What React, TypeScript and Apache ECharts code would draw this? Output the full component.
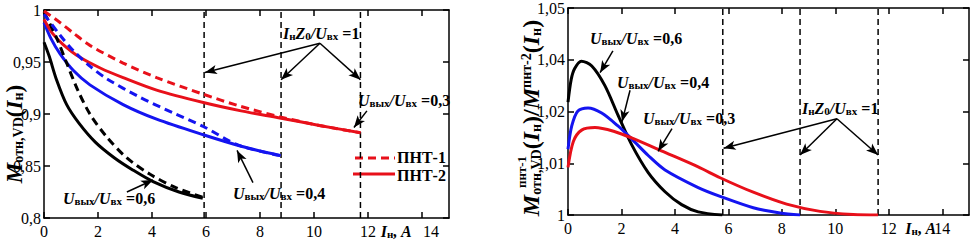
import React, { useEffect, useRef } from "react";
import * as echarts from "echarts";

// ---------- tick labels ----------
const xTickValues = [0, 2, 4, 6, 8, 10, 12, 14];
const xTickLabels = ["0", "2", "4", "6", "8", "10", "12", "14"];
const yLeftLabels = ["0,8", "0,85", "0,9", "0,95", "1"];
const yRightLabels = ["1", "1,01", "1,02", "1,04", "1,05"];

// ---------- left chart: M_отн,VD(Iн) ----------
// ПНТ-2 (solid)
const left06Pnt2: number[][] = [
  [0, 0.969], [0.2, 0.955], [0.45, 0.934], [0.84, 0.909],
  [1.3, 0.891], [1.9, 0.873], [2.6, 0.858], [3.3, 0.846], [4.04, 0.835],
  [5.0, 0.825], [5.88, 0.819],
];
const left04Pnt2: number[][] = [
  [0, 0.988], [0.25, 0.973], [0.59, 0.958], [1.08, 0.942], [1.7, 0.928],
  [2.93, 0.909], [4.17, 0.895], [5.9, 0.880], [7.3, 0.869],
  [8.76, 0.860],
];
const left03Pnt2: number[][] = [
  [0, 0.991], [0.3, 0.978], [0.7, 0.967], [1.3, 0.955], [2.1, 0.944],
  [2.93, 0.935], [4.17, 0.923], [5.9, 0.911], [7.3, 0.903], [8.78, 0.896], [10.2, 0.889],
  [11.72, 0.882],
];
// ПНТ-1 (dashed)
const left06Pnt1: number[][] = [
  [0, 0.998], [0.47, 0.973], [0.84, 0.949], [1.25, 0.923], [1.7, 0.900], [2.32, 0.878],
  [3.06, 0.858], [3.93, 0.842], [4.9, 0.829], [5.88, 0.820],
];
const left04Pnt1: number[][] = [
  [0, 0.996], [0.59, 0.976], [1.08, 0.961], [1.7, 0.946], [2.32, 0.934], [3.56, 0.916],
  [4.79, 0.901], [5.9, 0.888], [7.2, 0.870], [8.76, 0.860],
];
const left03Pnt1: number[][] = [
  [0, 0.999], [0.59, 0.988], [1.08, 0.978], [1.7, 0.966], [2.93, 0.949], [4.17, 0.935],
  [5.9, 0.919], [7.2, 0.908], [8.78, 0.897], [10.2, 0.889], [11.72, 0.882],
];
const leftLimits = [5.93, 8.78, 11.72];

// ---------- right chart: ratio ПНТ-1 / ПНТ-2 ----------
const right06: number[][] = [
  [0, 1.0218], [0.12, 1.0262], [0.25, 1.0283], [0.5, 1.0297], [0.89, 1.0288], [1.38, 1.025],
  [1.87, 1.0193], [2.38, 1.0136], [3.0, 1.0082], [3.63, 1.0045], [4.25, 1.002],
  [4.87, 1.0006], [5.77, 1.0],
];
const right04: number[][] = [
  [0, 1.0127], [0.14, 1.0172], [0.37, 1.0201], [0.75, 1.0207], [1.26, 1.0197],
  [1.87, 1.0172], [2.38, 1.0147], [3.0, 1.0115], [3.63, 1.0087], [4.87, 1.0053],
  [5.69, 1.0036], [6.93, 1.0014], [7.93, 1.0004], [8.68, 1.0],
];
const right03: number[][] = [
  [0, 1.0092], [0.2, 1.0142], [0.51, 1.0164], [1.01, 1.0169], [1.76, 1.0161],
  [2.38, 1.0149], [3.63, 1.0121], [4.87, 1.0093], [5.69, 1.0072], [6.93, 1.0044],
  [8.18, 1.0021], [9.43, 1.0007], [10.67, 1.0001], [11.6, 1.0],
];
const rightLimits = [5.79, 8.68, 11.6];

// ---------- annotation arrows (data coordinates) ----------
const leftArrows: number[][][] = [
  [[10.22, 0.968], [5.96, 0.940]],
  [[10.22, 0.968], [8.78, 0.933]],
  [[10.22, 0.968], [11.72, 0.933]],
  [[11.96, 0.903], [11.48, 0.887]],
  [[7.74, 0.834], [7.15, 0.865]],
  [[3.07, 0.825], [4.04, 0.8365]],
];
const rightArrows: number[][][] = [
  [[1.68, 1.0317], [1.2, 1.0275]],
  [[2.32, 1.0241], [2.02, 1.018]],
  [[3.89, 1.0167], [3.37, 1.0123]],
  [[10.06, 1.0186], [5.82, 1.0129]],
  [[10.06, 1.0186], [8.68, 1.0116]],
  [[10.06, 1.0186], [11.6, 1.0116]],
];

const RED = "#e8101a";
const BLUE = "#1414f0";
const BLACK = "#000000";
const FONT = "Liberation Serif";

const richStyles = {
  U: { fontFamily: FONT, fontWeight: "bold", fontStyle: "italic", fontSize: 16, fill: "#000" },
  s: { fontFamily: FONT, fontWeight: "bold", fontSize: 11, fill: "#000", verticalAlign: "bottom" },
  t: { fontFamily: FONT, fontWeight: "bold", fontSize: 16, fill: "#000" },
};

function ratioText(v: string) {
  return "{U|U}{s|вых}{U|/}{U|U}{s|вх}{t| =" + v + "}";
}
const limitText = "{U|I}{s|н}{U|Z}{s|0}{U|/}{U|U}{s|вх}{t| =1}";

function annot(x: number, y: number, text: string) {
  return {
    type: "text",
    x,
    y,
    silent: true,
    style: { text, rich: richStyles, align: "left", verticalAlign: "middle", fill: "#000" },
  };
}

function curve(data: number[][], color: string, dashed: boolean, gi: number, name: string) {
  return {
    type: "line",
    name,
    xAxisIndex: gi * 2,
    yAxisIndex: gi * 2,
    data,
    symbol: "none",
    showSymbol: false,
    smooth: 0.3,
    silent: true,
    lineStyle: { color, width: 3, type: dashed ? [8, 5] : "solid" },
    z: dashed ? 4 : 3,
  };
}

function vline(x: number, gi: number, y0: number, y1: number, arrows?: number[][][]) {
  const s: any = {
    type: "line",
    xAxisIndex: gi * 2,
    yAxisIndex: gi * 2,
    data: [[x, y0], [x, y1]],
    symbol: "none",
    showSymbol: false,
    silent: true,
    lineStyle: { color: "#000", width: 1.5, type: [6, 4] },
    z: 2,
  };
  if (arrows) {
    s.markLine = {
      silent: true,
      symbol: ["none", "arrow"],
      symbolSize: [7, 12],
      label: { show: false },
      emphasis: { disabled: true },
      lineStyle: { color: "#000", width: 1.5, type: "solid" },
      data: arrows.map((a) => [{ coord: a[0] }, { coord: a[1] }]),
    };
  }
  return s;
}

const axisLine = { show: true, onZero: false, lineStyle: { color: "#000", width: 1.5 } };
const axisTickBase = { show: true, inside: true, length: 6, lineStyle: { color: "#000", width: 1.5 } };
const labelBase = { fontFamily: FONT, fontSize: 16, color: "#000" };

function frameX(gi: number, position: string) {
  return {
    type: "value",
    gridIndex: gi,
    min: 0,
    max: 15,
    interval: 2,
    position,
    axisLine,
    axisTick: { ...axisTickBase, customValues: xTickValues },
    splitLine: { show: false },
    axisLabel: { show: false },
  };
}

// label-only axis (no line, no ticks) carrying one text at one value
function labelAxis(gi: number, value: number, text: string, rich: any) {
  return {
    type: "value",
    gridIndex: gi,
    min: 0,
    max: 15,
    interval: 2,
    position: "bottom",
    axisLine: { show: false, onZero: false },
    axisTick: { show: false },
    splitLine: { show: false },
    axisLabel: {
      ...labelBase,
      margin: 5,
      hideOverlap: false,
      showMinLabel: true,
      showMaxLabel: true,
      customValues: [value],
      formatter: () => text,
      rich,
    },
  };
}

const nameRich = {
  m: { fontFamily: FONT, fontWeight: "bold", fontStyle: "italic", fontSize: 16, color: "#000" },
  s: { fontFamily: FONT, fontWeight: "bold", fontSize: 11, color: "#000", verticalAlign: "bottom" },
  r: { ...labelBase, padding: [0, 0, 0, 18] },
};
const axisNameText = "{m|I}{s|н}{m|, A}";

function yAxes(gi: number, min: number, max: number, interval: number, labels: string[]) {
  return [
    {
      type: "value",
      gridIndex: gi,
      min,
      max,
      interval,
      position: "left",
      axisLine,
      axisTick: axisTickBase,
      splitLine: { show: false },
      axisLabel: {
        ...labelBase,
        margin: 3,
        formatter: (v: number) => labels[Math.round((v - min) / interval)] ?? "",
      },
    },
    {
      type: "value",
      gridIndex: gi,
      min,
      max,
      interval,
      position: "right",
      axisLine,
      axisTick: axisTickBase,
      splitLine: { show: false },
      axisLabel: { show: false },
    },
  ];
}

const leftTitle = "{m|M}{sub|отн,VD}{p|(}{m|I}{sub|н}{p|)}";
const rightTitle =
  "{m|M}{sub|отн,VD}{p|(}{m|I}{sub|н}{p|)/}{m|M}{sup|пнт-2}{p|(}{m|I}{sub|н}{p|)}";

const titleRich = (main: number, small: number) => ({
  m: { fontFamily: FONT, fontWeight: "bold", fontStyle: "italic", fontSize: main, fill: "#000" },
  p: { fontFamily: FONT, fontWeight: "bold", fontSize: main, fill: "#000" },
  sub: { fontFamily: FONT, fontWeight: "bold", fontSize: small, fill: "#000", verticalAlign: "bottom" },
  sup: { fontFamily: FONT, fontWeight: "bold", fontSize: small, fill: "#000", verticalAlign: "top" },
});

export default function App() {
  const ref = useRef<HTMLDivElement>(null);
  useEffect(() => {
    if (!ref.current) return;
    const chart = echarts.init(ref.current, undefined, { renderer: "svg" });
    const tickLabelAxes = (gi: number, shift14: boolean) =>
      xTickValues.map((v, i) =>
        labelAxis(gi, v, xTickLabels[i] === "14" && shift14 ? "{r|14}" : xTickLabels[i], nameRich)
      );
    const option: any = {
      animation: false,
      backgroundColor: "#fff",
      grid: [
        { left: 44, top: 10, width: 405, height: 208 },
        { left: 568, top: 4, width: 401, height: 211 },
      ],
      xAxis: [
        frameX(0, "bottom"),
        frameX(0, "top"),
        frameX(1, "bottom"),
        frameX(1, "top"),
        ...tickLabelAxes(0, true),
        ...tickLabelAxes(1, false),
        // axis names "Iн, A", drawn as labels between the 12 and 14 ticks
        labelAxis(0, 13.05, axisNameText, nameRich),
        labelAxis(1, 13.2, axisNameText, nameRich),
      ],
      yAxis: [
        ...yAxes(0, 0.8, 1.0, 0.05, yLeftLabels),
        ...yAxes(1, 1.0, 1.04, 0.01, yRightLabels),
      ],
      series: [
        ...leftLimits.map((x, i) => vline(x, 0, 0.8, 1.0, i === 0 ? leftArrows : undefined)),
        ...rightLimits.map((x, i) => vline(x, 1, 1.0, 1.04, i === 0 ? rightArrows : undefined)),
        curve(left06Pnt2, BLACK, false, 0, "ПНТ-2 0,6"),
        curve(left04Pnt2, BLUE, false, 0, "ПНТ-2 0,4"),
        curve(left03Pnt2, RED, false, 0, "ПНТ-2"),
        curve(left06Pnt1, BLACK, true, 0, "ПНТ-1 0,6"),
        curve(left04Pnt1, BLUE, true, 0, "ПНТ-1 0,4"),
        curve(left03Pnt1, RED, true, 0, "ПНТ-1"),
        curve(right06, BLACK, false, 1, "0,6"),
        curve(right04, BLUE, false, 1, "0,4"),
        curve(right03, RED, false, 1, "0,3"),
      ],
      graphic: [
        // left chart annotations
        annot(283, 33, limitText),
        annot(358, 100, ratioText("0,3")),
        annot(233, 193, ratioText("0,4")),
        annot(63, 198, ratioText("0,6")),
        // right chart annotations
        annot(590, 38, ratioText("0,6")),
        annot(617, 82, ratioText("0,4")),
        annot(643, 118, ratioText("0,3")),
        annot(802, 108, limitText),
        // legend
        { type: "line", silent: true, shape: { x1: 355, y1: 158, x2: 395, y2: 158 }, style: { stroke: RED, lineWidth: 3, lineDash: [8, 5] } },
        { type: "line", silent: true, shape: { x1: 353, y1: 174, x2: 395, y2: 174 }, style: { stroke: RED, lineWidth: 3 } },
        { type: "text", silent: true, x: 397, y: 157, style: { text: "ПНТ-1", font: "bold 16px 'Liberation Serif'", fill: "#000", align: "left", verticalAlign: "middle" } },
        { type: "text", silent: true, x: 397, y: 175, style: { text: "ПНТ-2", font: "bold 16px 'Liberation Serif'", fill: "#000", align: "left", verticalAlign: "middle" } },
        // y titles
        { type: "text", silent: true, x: 14, y: 134, rotation: Math.PI / 2, style: { text: leftTitle, rich: titleRich(23, 14), align: "center", verticalAlign: "middle" } },
        { type: "text", silent: true, x: 531, y: 118, rotation: Math.PI / 2, style: { text: rightTitle, rich: titleRich(24, 14), align: "center", verticalAlign: "middle" } },
        { type: "text", silent: true, x: 521, y: 172, rotation: Math.PI / 2, style: { text: "пнт-1", font: "bold 13px 'Liberation Serif'", fill: "#000", align: "center", verticalAlign: "middle" } },
      ],
    };
    chart.setOption(option);
    return () => chart.dispose();
  }, []);
  return (
    <div
      ref={ref}
      style={{ position: "absolute", left: 0, top: 0, width: 971, height: 244, background: "#fff" }}
    />
  );
}
